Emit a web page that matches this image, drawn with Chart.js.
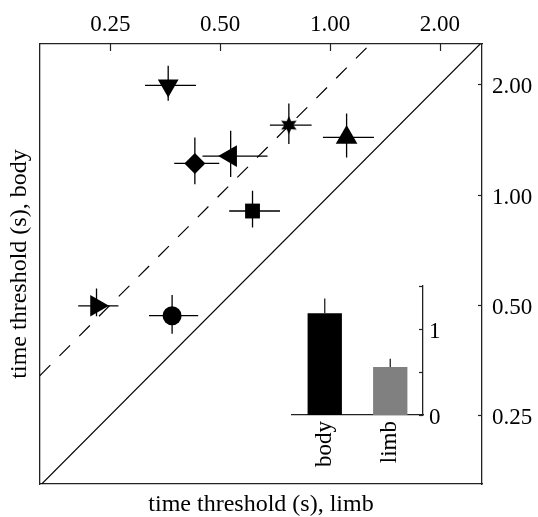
<!DOCTYPE html>
<html>
<head>
<meta charset="utf-8">
<script src="https://cdn.jsdelivr.net/npm/chart.js@4.4.0/dist/chart.umd.min.js"></script>
<style>
  html, body { margin: 0; padding: 0; background: #fff; }
  #wrap { position: relative; width: 538px; height: 517px; }
  #main { position: absolute; left: 0; top: 0; }
  #inset { position: absolute; left: 270px; top: 266px; }
</style>
</head>
<body>
<div id="wrap">
  <canvas id="main" width="538" height="517" style="width:538px;height:517px"></canvas>
  <canvas id="inset" width="200" height="214" style="width:200px;height:214px"></canvas>
</div>
<script>
// time thresholds (s), one entry per marker
const limbTime = [0.360, 0.771, 1.110, 0.534, 0.426, 0.613, 0.229, 0.369];
const limbLow  = [0.311, 0.684, 0.956, 0.447, 0.374, 0.529, 0.204, 0.319];
const limbHigh = [0.429, 0.890, 1.319, 0.674, 0.497, 0.729, 0.263, 0.435];
const bodyTime = [1.988, 1.548, 1.433, 1.274, 1.217, 0.902, 0.497, 0.467];
const bodyLow  = [1.804, 1.374, 1.264, 1.118, 1.068, 0.813, 0.465, 0.417];
const bodyHigh = [2.248, 1.775, 1.666, 1.494, 1.433, 1.024, 0.554, 0.532];

const axisTicks = [0.25, 0.5, 1, 2];
const xRange = [0.1603, 2.609];
const yRange = [0.162, 2.579];
const identityLine = [0.16, 2.61];
const dashedRatio = 2;

// inset bars
const barLabels = ['body', 'limb'];
const barMeans = [1.184, 0.559];
const barErr = [0.172, 0.094];
const insetTicks = [0, 0.5, 1, 1.5];
const insetShown = [0, 1];

const serif = "'Liberation Serif', 'Times New Roman', serif";
const tickFont = { family: serif, size: 23, lineHeight: 1.2 };
const titleFont = { family: serif, size: 24, lineHeight: 1 };
const axisColor = '#222';

function makeStar(r) {
  const c = document.createElement('canvas');
  c.width = c.height = Math.ceil(2 * r + 2);
  const g = c.getContext('2d');
  const cx = c.width / 2, cy = c.height / 2;
  g.beginPath();
  for (let k = 0; k < 12; k++) {
    const a = -Math.PI / 2 + k * Math.PI / 6;
    const rr = k % 2 === 0 ? r : r * 0.5;
    const px = cx + Math.cos(a) * rr, py = cy + Math.sin(a) * rr;
    if (k === 0) g.moveTo(px, py); else g.lineTo(px, py);
  }
  g.closePath();
  g.fillStyle = '#000';
  g.fill();
  return c;
}

const markerStyle = ['triangle', makeStar(9), 'triangle', 'triangle', 'rectRot', 'rect', 'triangle', 'circle'];
const markerRotation = [180, 0, 0, 270, 0, 0, 90, 0];
const markerRadius = [12, 9, 12.5, 12.5, 10.5, 10.5, 12.5, 9.5];

// tick marks pointing into the plot
const inwardTicks = {
  id: 'inwardTicks',
  afterDraw(chart, args, opts) {
    const ctx = chart.ctx, area = chart.chartArea;
    ctx.save();
    ctx.strokeStyle = axisColor;
    ctx.lineWidth = 1.2;
    (opts.axes || []).forEach(a => {
      const s = chart.scales[a.id];
      s.ticks.forEach(t => {
        const p = Math.round(s.getPixelForValue(t.value)) + 0.5;
        ctx.beginPath();
        if (s.isHorizontal()) {
          const y0 = s.position === 'top' ? area.top : area.bottom;
          const dir = s.position === 'top' ? 1 : -1;
          ctx.moveTo(p, y0);
          ctx.lineTo(p, y0 + dir * a.len);
        } else {
          const x0 = s.position === 'right' ? area.right : area.left;
          const dir = s.position === 'right' ? -1 : 1;
          ctx.moveTo(x0, p);
          ctx.lineTo(x0 + dir * a.len, p);
        }
        ctx.stroke();
      });
    });
    ctx.restore();
  }
};

const errorBars = {
  id: 'errorBars',
  beforeDatasetsDraw(chart) {
    const xs = chart.scales.x, ys = chart.scales.y, ctx = chart.ctx;
    ctx.save();
    ctx.strokeStyle = '#000';
    ctx.lineWidth = 1.3;
    limbTime.forEach((lx, i) => {
      const px = xs.getPixelForValue(lx), py = ys.getPixelForValue(bodyTime[i]);
      ctx.beginPath();
      ctx.moveTo(xs.getPixelForValue(limbLow[i]), py);
      ctx.lineTo(xs.getPixelForValue(limbHigh[i]), py);
      ctx.moveTo(px, ys.getPixelForValue(bodyLow[i]));
      ctx.lineTo(px, ys.getPixelForValue(bodyHigh[i]));
      ctx.stroke();
    });
    ctx.restore();
  }
};

const barErrors = {
  id: 'barErrors',
  afterDatasetsDraw(chart) {
    const ys = chart.scales.y, ctx = chart.ctx;
    const meta = chart.getDatasetMeta(0);
    ctx.save();
    ctx.strokeStyle = '#222';
    ctx.lineWidth = 1.3;
    meta.data.forEach((bar, i) => {
      ctx.beginPath();
      ctx.moveTo(bar.x, ys.getPixelForValue(barMeans[i]));
      ctx.lineTo(bar.x, ys.getPixelForValue(barMeans[i] + barErr[i]));
      ctx.stroke();
    });
    ctx.restore();
  }
};

const fixTicks = list => scale => { scale.ticks = list.map(v => ({ value: v })); };

new Chart(document.getElementById('main'), {
  type: 'scatter',
  data: {
    datasets: [
      {
        data: limbTime.map((x, i) => ({ x: x, y: bodyTime[i] })),
        pointStyle: markerStyle,
        rotation: markerRotation,
        pointRadius: markerRadius,
        backgroundColor: '#000',
        borderColor: '#000',
        borderWidth: 0
      },
      {
        type: 'line',
        data: identityLine.map(v => ({ x: v, y: v })),
        borderColor: '#000',
        borderWidth: 1.2,
        pointRadius: 0
      },
      {
        type: 'line',
        data: [{ x: identityLine[0], y: identityLine[0] * dashedRatio },
               { x: identityLine[1] / dashedRatio, y: identityLine[1] }],
        borderColor: '#000',
        borderWidth: 1.2,
        borderDash: [15, 13],
        pointRadius: 0
      }
    ]
  },
  options: {
    responsive: false,
    animation: false,
    layout: { padding: 0 },
    plugins: {
      legend: { display: false },
      tooltip: { enabled: false },
      inwardTicks: { axes: [{ id: 'x', len: 7 }, { id: 'y', len: 4 }] }
    },
    scales: {
      x: {
        type: 'logarithmic', position: 'top', min: xRange[0], max: xRange[1],
        afterBuildTicks: fixTicks(axisTicks),
        afterFit: s => { s.height = 44; },
        ticks: { font: tickFont, color: '#000', padding: 5, maxRotation: 0, autoSkip: false,
                 callback: v => Number(v).toFixed(2) },
        grid: { display: false, drawTicks: false },
        border: { color: axisColor, width: 1.3 }
      },
      y: {
        type: 'logarithmic', position: 'right', min: yRange[0], max: yRange[1],
        afterBuildTicks: fixTicks(axisTicks),
        afterFit: s => { s.width = 56; },
        ticks: { font: tickFont, color: '#000', padding: 10, labelOffset: 3, autoSkip: false,
                 callback: v => Number(v).toFixed(2) },
        grid: { display: false, drawTicks: false },
        border: { color: axisColor, width: 1.3 }
      },
      xb: {
        type: 'linear', position: 'bottom', min: 0, max: 1,
        afterFit: s => { s.height = 33; },
        ticks: { display: false },
        grid: { display: false, drawTicks: false },
        border: { color: axisColor, width: 1.3 },
        title: { display: true, text: 'time threshold (s), limb', font: titleFont, color: '#000', padding: 0 }
      },
      yl: {
        type: 'linear', position: 'left', min: 0, max: 1,
        afterFit: s => { s.width = 40; },
        ticks: { display: false },
        grid: { display: false, drawTicks: false },
        border: { color: axisColor, width: 1.3 },
        title: { display: true, text: 'time threshold (s), body', font: titleFont, color: '#000', padding: { top: 8, bottom: 0 } }
      }
    }
  },
  plugins: [errorBars, inwardTicks]
});

new Chart(document.getElementById('inset'), {
  type: 'bar',
  data: {
    labels: barLabels,
    datasets: [{
      data: barMeans,
      backgroundColor: ['#000000', '#808080'],
      borderWidth: 0,
      barPercentage: 0.524,
      categoryPercentage: 1
    }]
  },
  options: {
    responsive: false,
    animation: false,
    layout: { padding: { left: 22, top: 20, right: 0, bottom: 0 } },
    plugins: {
      legend: { display: false },
      tooltip: { enabled: false },
      inwardTicks: { axes: [{ id: 'y', len: 4 }] }
    },
    scales: {
      x: {
        afterFit: s => { s.height = 65; },
        ticks: { font: tickFont, color: '#000', minRotation: 90, maxRotation: 90, padding: 6, autoSkip: false },
        grid: { display: false, drawTicks: false },
        border: { color: axisColor, width: 1.3 }
      },
      y: {
        position: 'right', min: 0, max: 1.5,
        afterBuildTicks: fixTicks(insetTicks),
        afterFit: s => { s.width = 47; },
        ticks: { font: tickFont, color: '#000', padding: 6, labelOffset: 3, autoSkip: false,
                 callback: v => insetShown.includes(v) ? String(v) : '' },
        grid: { display: false, drawTicks: false },
        border: { color: axisColor, width: 1.3 }
      }
    }
  },
  plugins: [barErrors, inwardTicks]
});
</script>
</body>
</html>
